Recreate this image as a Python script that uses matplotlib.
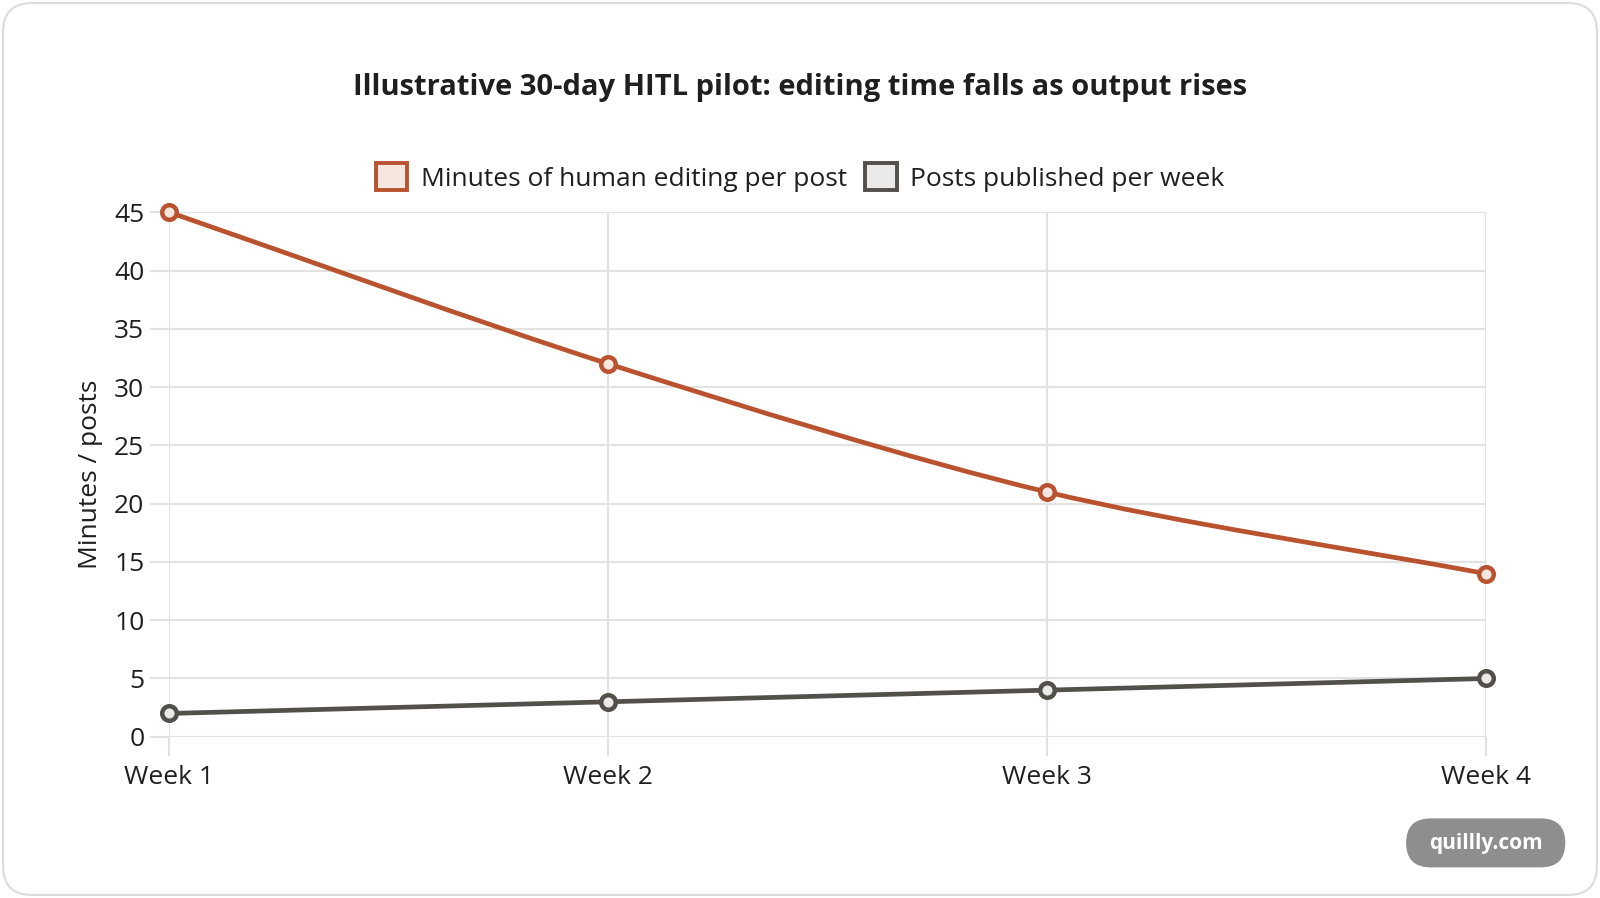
import matplotlib.pyplot as plt
from matplotlib.patches import FancyBboxPatch, Patch
from matplotlib.path import Path
from matplotlib.patches import PathPatch
import numpy as np

# --- Datos ---
weeks = ["Week 1", "Week 2", "Week 3", "Week 4"]
editing_minutes = [45, 32, 21, 14]
posts_per_week = [2, 3, 4, 5]

ORANGE = "#b9532f"
ORANGE_FILL = "#f6e6e0"
GRAY = "#53504c"
GRAY_FILL = "#ebeae9"
GRID = "#e2e2e2"
TEXT = "#1f1f1f"

plt.rcParams['font.family'] = ['Open Sans', 'DejaVu Sans']

W, H = 1568, 880  # coordenadas de referencia
fig = plt.figure(figsize=(16, 8.98), dpi=100)

# tarjeta con borde redondeado
card = FancyBboxPatch((3 / W, 3 / H), 1 - 6 / W, 1 - 6 / H,
                      boxstyle="round,pad=0,rounding_size=0.018",
                      transform=fig.transFigure, facecolor="white",
                      edgecolor="#dcdcdc", linewidth=1.5, mutation_aspect=W / H,
                      zorder=-10)
fig.patches.append(card)

ax = fig.add_axes([166 / W, 1 - 722 / H, (1456 - 166) / W, (722 - 208) / H])
ax.set_facecolor("none")
x = np.arange(len(weeks))
ax.set_xlim(0, len(weeks) - 1)
ax.set_ylim(0, 45)
ax.set_yticks(range(0, 46, 5))
ax.set_xticks(x)
ax.set_xticklabels(weeks)
for s in ax.spines.values():
    s.set_visible(False)
ax.grid(True, color=GRID, linewidth=1.5)
ax.set_axisbelow(True)
ax.tick_params(length=14, color=GRID, width=1.5, labelsize=19, labelcolor=TEXT, pad=4)
ax.tick_params(axis="x", pad=6)
ax.set_ylabel("Minutes / posts", fontsize=19, color=TEXT, labelpad=8)


# --- curva tipo Chart.js (tension) ---
def curva(ax, xs, ys, color, tension=0.3):
    pts = ax.transData.transform(np.column_stack([xs, ys]))
    n = len(pts)
    cps = []
    for i in range(n):
        prev = pts[max(i - 1, 0)]
        cur = pts[i]
        nxt = pts[min(i + 1, n - 1)]
        d01 = np.hypot(*(cur - prev))
        d12 = np.hypot(*(nxt - cur))
        tot = d01 + d12
        fa = tension * d01 / tot if tot else 0
        fb = tension * d12 / tot if tot else 0
        cps.append((cur - fa * (nxt - prev), cur + fb * (nxt - prev)))
    verts = [pts[0]]
    codes = [Path.MOVETO]
    for i in range(n - 1):
        verts += [cps[i][1], cps[i + 1][0], pts[i + 1]]
        codes += [Path.CURVE4] * 3
    verts = ax.transData.inverted().transform(np.array(verts))
    ax.add_patch(PathPatch(Path(verts, codes), facecolor="none", edgecolor=color,
                           linewidth=3.4, zorder=3, clip_on=False, capstyle="round"))


curva(ax, x, editing_minutes, ORANGE)
curva(ax, x, posts_per_week, GRAY)
ax.plot(x, editing_minutes, linestyle="none", marker="o", markersize=10.5,
        markerfacecolor=ORANGE_FILL, markeredgecolor=ORANGE, markeredgewidth=3.2,
        zorder=4, clip_on=False)
ax.plot(x, posts_per_week, linestyle="none", marker="o", markersize=10.5,
        markerfacecolor=GRAY_FILL, markeredgecolor=GRAY, markeredgewidth=3.2,
        zorder=4, clip_on=False)

# --- leyenda ---
handles = [Patch(facecolor=ORANGE_FILL, edgecolor=ORANGE, linewidth=2.8),
           Patch(facecolor=GRAY_FILL, edgecolor=GRAY, linewidth=2.8)]
fig.legend(handles, ["Minutes of human editing per post", "Posts published per week"],
           loc="center", bbox_to_anchor=(784 / W, 1 - 174 / H), ncol=2, frameon=False,
           fontsize=19, handlelength=1.2, handleheight=1.2, handletextpad=0.5,
           columnspacing=0.7, labelcolor=TEXT)

fig.text(784 / W, 1 - 86 / H, "Illustrative 30-day HITL pilot: editing time falls as output rises",
         ha="center", va="center", fontsize=21, fontweight="bold", color=TEXT)

# --- marca de agua ---
pill = FancyBboxPatch((1378 / W, 1 - 850 / H), 156 / W, 48 / H,
                      boxstyle="round,pad=0,rounding_size=0.0153",
                      transform=fig.transFigure, facecolor="#8e8e8e",
                      edgecolor="none", mutation_aspect=W / H)
fig.patches.append(pill)
fig.text(1456 / W, 1 - 827 / H, "quillly.com", ha="center", va="center",
         fontsize=15, fontweight="bold", color="white")

fig.savefig("out.png", dpi=100)
